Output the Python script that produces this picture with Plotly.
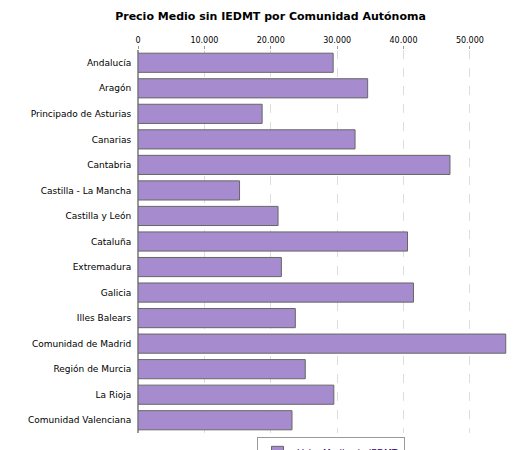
import plotly.graph_objects as go

regions = ["Andalucía", "Aragón", "Principado de Asturias", "Canarias", "Cantabria",
           "Castilla - La Mancha", "Castilla y León", "Cataluña", "Extremadura", "Galicia",
           "Illes Balears", "Comunidad de Madrid", "Región de Murcia", "La Rioja",
           "Comunidad Valenciana"]
values = [29400, 34600, 18700, 32700, 47000, 15300, 21100, 40600, 21600, 41500,
          23700, 55400, 25200, 29500, 23200]

tick_vals = [0, 10000, 20000, 30000, 40000, 50000]
tick_text = ["0", "10.000", "20.000", "30.000", "40.000", "50.000"]

fig = go.Figure(go.Bar(
    y=regions, x=values, orientation="h", name="Valor Medio sin IEDMT",
    marker=dict(color="#a68bcf", line=dict(color="#666666", width=1)),
    width=0.75, showlegend=True,
))

fig.update_layout(
    width=525, height=450,
    title=dict(text="<b>Precio Medio sin IEDMT por Comunidad Autónoma</b>",
               x=0.5, y=0.99, xanchor="center", yanchor="top",
               font=dict(family="DejaVu Sans", size=11, color="#000")),
    font=dict(family="DejaVu Sans", size=9, color="#000"),
    paper_bgcolor="white", plot_bgcolor="white",
    margin=dict(l=130, r=10, t=42, b=25, autoexpand=False),
    bargap=0.25,
    xaxis=dict(side="top", range=[0, 58000], tickvals=tick_vals, ticktext=tick_text,
               showgrid=True, gridcolor="#dddddd", griddash="dash",
               zeroline=True, zerolinecolor="#999999", ticks="outside",
               ticklen=3, tickcolor="#999999", showline=False, tickfont=dict(size=8)),
    yaxis=dict(autorange="reversed", ticks="outside", ticklen=4, tickcolor="white",
               showgrid=False, automargin=False),
    legend=dict(orientation="h", x=0.5, xanchor="center", y=-0.01, yanchor="top",
                bordercolor="#999999", borderwidth=1, itemwidth=30,
                font=dict(family="DejaVu Sans", size=9, color="#330066")),
)

fig.write_html("out.html")
